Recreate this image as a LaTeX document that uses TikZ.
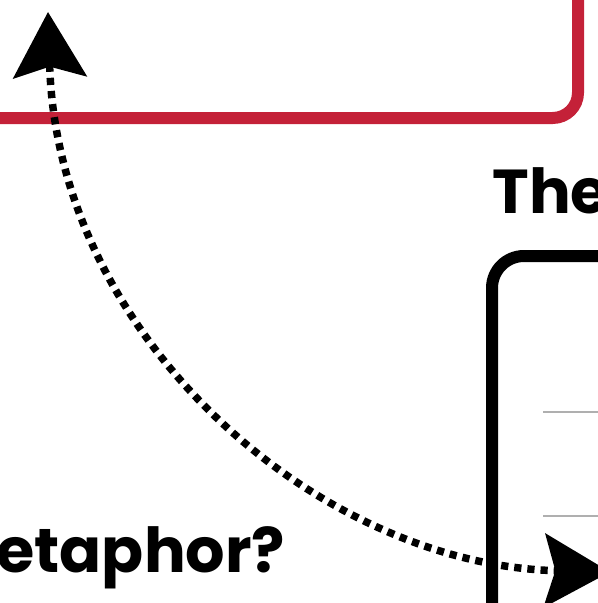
\documentclass[tikz,border=0pt]{standalone}
\usepackage{fontspec}
\newfontfamily\headfont{Poppins}
\usetikzlibrary{arrows.meta}

\definecolor{frameRed}{RGB}{196,33,56}
\definecolor{ruleGray}{RGB}{175,175,175}

\tikzset{every picture/.style={line width=0.75pt}}
\tikzset{
  redframe/.style={draw=frameRed, line width=9pt, rounded corners=19pt},
  blackframe/.style={draw=black, line width=9pt, rounded corners=24pt},
  thinrule/.style={draw=ruleGray, line width=1.1pt},
  dotlink/.style={draw=black, line width=5.6pt, dash pattern=on 5.4pt off 4.5pt,
    {Stealth[length=49pt, width=55pt, inset=8pt]}-{Stealth[length=49pt, width=55pt, inset=8pt]}},
  headline/.style={anchor=base west, inner sep=0pt, font=\headfont\bfseries\fontsize{46.5}{46.5}\selectfont}
}

\begin{document}
\begin{tikzpicture}[x=0.75pt,y=0.75pt,yscale=-1,xscale=1]
\useasboundingbox (0,0) rectangle (598,603);
\clip (0,0) rectangle (598,603);

%Rounded Rect (red, top)
\draw [redframe] (-20,118) -- (578,118) -- (578,-20) ;
%Rounded Rect (black, right)
\draw [blackframe] (492,640) -- (492,256) -- (640,256) ;
%Straight Lines
\draw [thinrule] (543,412) -- (620,412) ;
\draw [thinrule] (543,516) -- (620,516) ;

% Text Node
\node (title) at (492,213) [headline] {The};
% Text Node
\node (question) at (-4,572) [headline] {etaphor?};

%Curve Lines
\coordinate (upTip) at (48,12);
\coordinate (rightTip) at (610,572);
\draw [dotlink] (upTip) .. controls (58,340) and (320,565) .. (rightTip) ;

\end{tikzpicture}
\end{document}
